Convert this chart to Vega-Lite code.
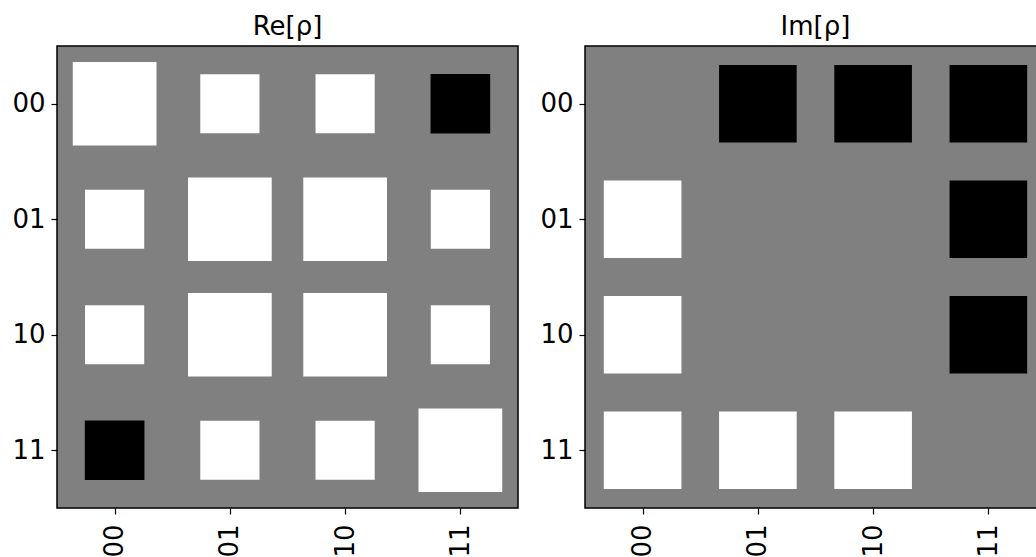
{
  "$schema": "https://vega.github.io/schema/vega-lite/v6.json",
  "padding": {"left": 0, "top": 13, "right": 0, "bottom": 0},
  "background": "white",
  "datasets": {
    "re": [
      {"row": "00", "col": "00", "magnitude": 0.25, "sign": "+"},
      {"row": "00", "col": "01", "magnitude": 0.125, "sign": "+"},
      {"row": "00", "col": "10", "magnitude": 0.125, "sign": "+"},
      {"row": "00", "col": "11", "magnitude": 0.127, "sign": "-"},
      {"row": "01", "col": "00", "magnitude": 0.125, "sign": "+"},
      {"row": "01", "col": "01", "magnitude": 0.25, "sign": "+"},
      {"row": "01", "col": "10", "magnitude": 0.25, "sign": "+"},
      {"row": "01", "col": "11", "magnitude": 0.125, "sign": "+"},
      {"row": "10", "col": "00", "magnitude": 0.125, "sign": "+"},
      {"row": "10", "col": "01", "magnitude": 0.25, "sign": "+"},
      {"row": "10", "col": "10", "magnitude": 0.25, "sign": "+"},
      {"row": "10", "col": "11", "magnitude": 0.125, "sign": "+"},
      {"row": "11", "col": "00", "magnitude": 0.127, "sign": "-"},
      {"row": "11", "col": "01", "magnitude": 0.125, "sign": "+"},
      {"row": "11", "col": "10", "magnitude": 0.125, "sign": "+"},
      {"row": "11", "col": "11", "magnitude": 0.25, "sign": "+"}
    ],
    "im": [
      {"row": "00", "col": "00", "magnitude": 0, "sign": "+"},
      {"row": "00", "col": "01", "magnitude": 0.215, "sign": "-"},
      {"row": "00", "col": "10", "magnitude": 0.215, "sign": "-"},
      {"row": "00", "col": "11", "magnitude": 0.215, "sign": "-"},
      {"row": "01", "col": "00", "magnitude": 0.215, "sign": "+"},
      {"row": "01", "col": "01", "magnitude": 0, "sign": "+"},
      {"row": "01", "col": "10", "magnitude": 0, "sign": "+"},
      {"row": "01", "col": "11", "magnitude": 0.215, "sign": "-"},
      {"row": "10", "col": "00", "magnitude": 0.215, "sign": "+"},
      {"row": "10", "col": "01", "magnitude": 0, "sign": "+"},
      {"row": "10", "col": "10", "magnitude": 0, "sign": "+"},
      {"row": "10", "col": "11", "magnitude": 0.215, "sign": "-"},
      {"row": "11", "col": "00", "magnitude": 0.215, "sign": "+"},
      {"row": "11", "col": "01", "magnitude": 0.215, "sign": "+"},
      {"row": "11", "col": "10", "magnitude": 0.215, "sign": "+"},
      {"row": "11", "col": "11", "magnitude": 0, "sign": "+"}
    ]
  },
  "spacing": 9,
  "hconcat": [
    {
      "data": {"name": "re"},
      "width": 461,
      "height": 462,
      "title": {"text": "Re[ρ]"},
      "mark": {"type": "square", "filled": true, "opacity": 1},
      "encoding": {
        "x": {"field": "col", "type": "nominal", "sort": ["00", "01", "10", "11"], "scale": {"paddingInner": 0, "paddingOuter": 0}, "axis": {"labelAngle": -90}},
        "y": {"field": "row", "type": "nominal", "sort": ["00", "01", "10", "11"], "scale": {"paddingInner": 0, "paddingOuter": 0}},
        "size": {"field": "magnitude", "type": "quantitative", "scale": {"domain": [0, 0.25], "range": [0, 7006], "zero": true}, "legend": null},
        "color": {"field": "sign", "type": "nominal", "scale": {"domain": ["+", "-"], "range": ["#ffffff", "#000000"]}, "legend": null}
      }
    },
    {
      "data": {"name": "im"},
      "width": 461,
      "height": 462,
      "title": {"text": "Im[ρ]"},
      "mark": {"type": "square", "filled": true, "opacity": 1},
      "encoding": {
        "x": {"field": "col", "type": "nominal", "sort": ["00", "01", "10", "11"], "scale": {"paddingInner": 0, "paddingOuter": 0}, "axis": {"labelAngle": -90}},
        "y": {"field": "row", "type": "nominal", "sort": ["00", "01", "10", "11"], "scale": {"paddingInner": 0, "paddingOuter": 0}},
        "size": {"field": "magnitude", "type": "quantitative", "scale": {"domain": [0, 0.25], "range": [0, 7006], "zero": true}, "legend": null},
        "color": {"field": "sign", "type": "nominal", "scale": {"domain": ["+", "-"], "range": ["#ffffff", "#000000"]}, "legend": null}
      }
    }
  ],
  "resolve": {"scale": {"size": "independent", "color": "independent"}},
  "config": {
    "font": "DejaVu Sans",
    "view": {"fill": "#808080", "stroke": "#000000", "strokeWidth": 1.5},
    "title": {"font": "DejaVu Sans", "fontSize": 26, "fontWeight": "normal", "color": "#000000", "offset": 6},
    "axis": {
      "title": null,
      "grid": false,
      "domain": false,
      "ticks": true,
      "tickSize": 6,
      "tickWidth": 1.2,
      "tickColor": "#000000",
      "labelFont": "DejaVu Sans",
      "labelFontSize": 26,
      "labelColor": "#000000",
      "labelPadding": 6
    },
    "axisY": {"minExtent": 56, "maxExtent": 56},
    "axisX": {"labelPadding": 10}
  }
}
